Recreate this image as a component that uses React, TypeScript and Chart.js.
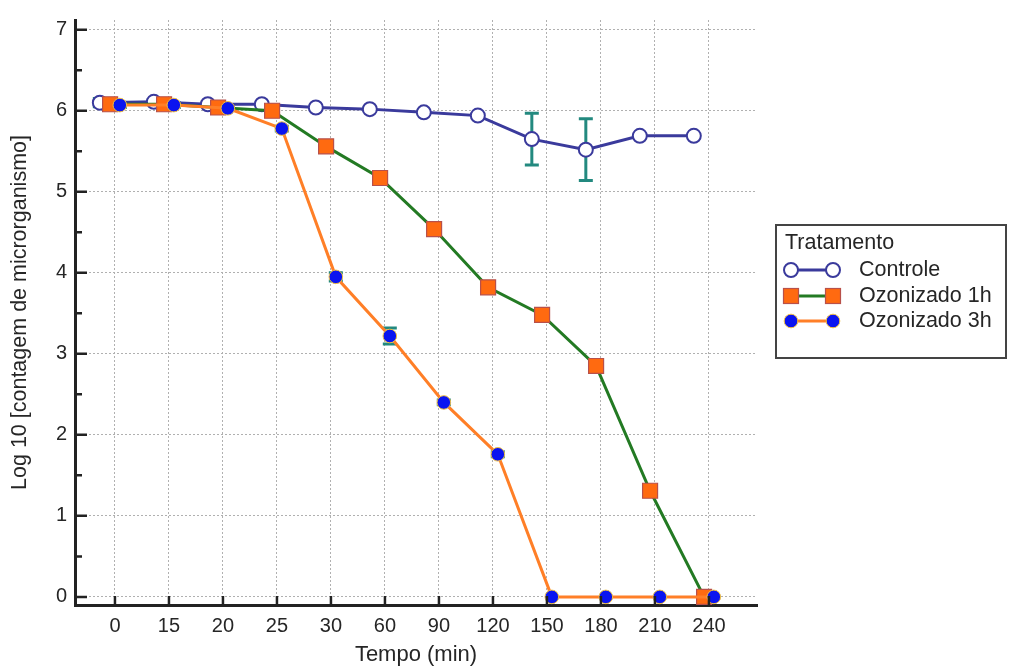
import React, { useEffect, useRef } from 'react';
import { Chart, registerables } from 'chart.js';

Chart.register(...registerables);

const categories = ['0', '15', '20', '25', '30', '60', '90', '120', '150', '180', '210', '240'];
const controle = [6.1, 6.11, 6.08, 6.08, 6.04, 6.02, 5.98, 5.94, 5.65, 5.52, 5.69, 5.69];
const controleErr = [0.05, 0.03, 0.03, 0.02, 0.02, 0.02, 0.02, 0.02, 0.32, 0.38, 0, 0];
const ozonizado1h = [6.08, 6.08, 6.04, 6.0, 5.56, 5.17, 4.54, 3.82, 3.48, 2.85, 1.31, 0];
const ozonizado1hErr = [0.03, 0.03, 0.02, 0.02, 0.03, 0.03, 0.04, 0.06, 0.03, 0.03, 0.06, 0];
const ozonizado3h = [6.07, 6.07, 6.03, 5.78, 3.95, 3.22, 2.4, 1.76, 0, 0, 0, 0];
const ozonizado3hErr = [0.03, 0.03, 0.02, 0.03, 0.05, 0.1, 0.03, 0.03, 0, 0, 0, 0];
const yTicks = [0, 1, 2, 3, 4, 5, 6, 7];
const seriesNames = ['Controle', 'Ozonizado 1h', 'Ozonizado 3h'];
const legendTitle = 'Tratamento';
const xTitle = 'Tempo (min)';
const yTitle = 'Log 10 [contagem de microrganismo]';

const FONT = "'Liberation Sans', Arial, sans-serif";
const TEXT = '#262626';
const dodge = [-0.28, -0.09, 0.09];
const seriesValues = [controle, ozonizado1h, ozonizado3h];
const seriesErrs = [controleErr, ozonizado1hErr, ozonizado3hErr];
const lineColors = ['#3a3a9c', '#237a23', '#ff7f27'];

function drawMarker(ctx: CanvasRenderingContext2D, s: number, x: number, y: number) {
  ctx.save();
  if (s === 0) {
    ctx.beginPath();
    ctx.arc(x, y, 7, 0, Math.PI * 2);
    ctx.fillStyle = '#ffffff';
    ctx.fill();
    ctx.lineWidth = 2;
    ctx.strokeStyle = '#3a3a9c';
    ctx.stroke();
  } else if (s === 1) {
    ctx.fillStyle = '#ff6a10';
    ctx.fillRect(x - 7.5, y - 7.5, 15, 15);
    ctx.lineWidth = 1.2;
    ctx.strokeStyle = '#b8504a';
    ctx.strokeRect(x - 7.5, y - 7.5, 15, 15);
  } else {
    ctx.beginPath();
    ctx.arc(x, y, 6.8, 0, Math.PI * 2);
    ctx.fillStyle = '#0a14f0';
    ctx.fill();
    ctx.lineWidth = 1;
    ctx.strokeStyle = '#f0c040';
    ctx.stroke();
  }
  ctx.restore();
}

const decorPlugin = {
  id: 'decor',
  beforeDatasetsDraw(chart: any) {
    const { ctx, scales } = chart;
    const x = scales.x;
    const y = scales.y;
    ctx.save();
    ctx.strokeStyle = '#23897f';
    ctx.lineWidth = 3;
    seriesValues.forEach((vals, s) => {
      vals.forEach((v, i) => {
        const e = seriesErrs[s][i];
        if (!e) return;
        const px = x.getPixelForValue(i + dodge[s]);
        const top = y.getPixelForValue(v + e);
        const bot = y.getPixelForValue(v - e);
        ctx.beginPath();
        ctx.moveTo(px, top);
        ctx.lineTo(px, bot);
        ctx.moveTo(px - 7, top);
        ctx.lineTo(px + 7, top);
        ctx.moveTo(px - 7, bot);
        ctx.lineTo(px + 7, bot);
        ctx.stroke();
      });
    });
    ctx.restore();
  },
  afterDraw(chart: any) {
    const { ctx, scales, chartArea } = chart;
    const x = scales.x;
    const y = scales.y;
    ctx.save();
    ctx.strokeStyle = '#222';
    ctx.lineWidth = 2.5;
    ctx.beginPath();
    yTicks.forEach((v, k) => {
      const py = y.getPixelForValue(v);
      ctx.moveTo(chartArea.left, py);
      ctx.lineTo(chartArea.left + 12, py);
      if (k < yTicks.length - 1) {
        const pm = y.getPixelForValue(v + 0.5);
        ctx.moveTo(chartArea.left, pm);
        ctx.lineTo(chartArea.left + 7, pm);
      }
    });
    categories.forEach((_, i) => {
      const px = x.getPixelForValue(i);
      ctx.moveTo(px, chartArea.bottom);
      ctx.lineTo(px, chartArea.bottom - 9);
    });
    ctx.stroke();

    // legend
    const bx = 776, by = 225, bw = 230, bh = 133;
    ctx.lineWidth = 2;
    ctx.strokeStyle = '#444';
    ctx.strokeRect(bx, by, bw, bh);
    ctx.fillStyle = TEXT;
    ctx.font = `21.5px ${FONT}`;
    ctx.textBaseline = 'middle';
    ctx.textAlign = 'left';
    ctx.fillText(legendTitle, 785, 243);
    const rows = [270, 296, 321];
    seriesNames.forEach((name, s) => {
      const ry = rows[s];
      ctx.strokeStyle = lineColors[s];
      ctx.lineWidth = 3;
      ctx.beginPath();
      ctx.moveTo(791, ry);
      ctx.lineTo(833, ry);
      ctx.stroke();
      drawMarker(ctx, s, 791, ry);
      drawMarker(ctx, s, 833, ry);
      ctx.fillStyle = TEXT;
      ctx.fillText(name, 859, ry);
    });
    ctx.restore();
  },
};

export default function App() {
  const ref = useRef<HTMLCanvasElement | null>(null);
  useEffect(() => {
    if (!ref.current) return;
    const makeData = (vals: number[], s: number) => vals.map((v, i) => ({ x: i + dodge[s], y: v }));
    const chart = new Chart(ref.current, {
      type: 'line',
      data: {
        datasets: [
          {
            label: seriesNames[0],
            data: makeData(controle, 0),
            borderColor: lineColors[0],
            borderWidth: 3,
            pointStyle: 'circle',
            pointRadius: 7,
            pointBackgroundColor: '#ffffff',
            pointBorderColor: '#3a3a9c',
            pointBorderWidth: 2,
            order: 3,
          },
          {
            label: seriesNames[1],
            data: makeData(ozonizado1h, 1),
            borderColor: lineColors[1],
            borderWidth: 3,
            pointStyle: 'rect',
            pointRadius: 10.6,
            pointBackgroundColor: '#ff6a10',
            pointBorderColor: '#b8504a',
            pointBorderWidth: 1.2,
            order: 2,
          },
          {
            label: seriesNames[2],
            data: makeData(ozonizado3h, 2),
            borderColor: lineColors[2],
            borderWidth: 3,
            pointStyle: 'circle',
            pointRadius: 6.8,
            pointBackgroundColor: '#0a14f0',
            pointBorderColor: '#f0c040',
            pointBorderWidth: 1,
            order: 1,
          },
        ],
      },
      options: {
        responsive: false,
        animation: false,
        layout: { padding: { left: 0, top: 17, right: 256, bottom: 0 } },
        plugins: { legend: { display: false }, tooltip: { enabled: false } },
        scales: {
          x: {
            type: 'linear',
            min: -0.74,
            max: 11.89,
            afterBuildTicks: (a: any) => {
              a.ticks = categories.map((_, i) => ({ value: i }));
            },
            afterFit: (s: any) => {
              s.height = 64;
            },
            grid: { color: '#b0b0b0', lineWidth: 1, drawTicks: false },
            border: { display: true, color: '#222', width: 3, dash: [2, 2] },
            ticks: {
              callback: (v: any) => categories[Math.round(v)] ?? '',
              font: { family: FONT, size: 20 },
              color: TEXT,
              padding: 9,
              maxRotation: 0,
              autoSkip: false,
            },
            title: {
              display: true,
              text: xTitle,
              font: { family: FONT, size: 22 },
              color: TEXT,
              padding: { top: 0, bottom: 1 },
            },
          },
          y: {
            type: 'linear',
            min: -0.1,
            max: 7.12,
            afterBuildTicks: (a: any) => {
              a.ticks = yTicks.map((v) => ({ value: v }));
            },
            afterFit: (s: any) => {
              s.width = 75;
            },
            grid: { color: '#b0b0b0', lineWidth: 1, drawTicks: false },
            border: { display: true, color: '#222', width: 3, dash: [2, 2] },
            ticks: {
              callback: (v: any) => String(v),
              font: { family: FONT, size: 20 },
              color: TEXT,
              padding: 8,
            },
            title: {
              display: true,
              text: yTitle,
              font: { family: FONT, size: 21.5 },
              color: TEXT,
              padding: { top: 7, bottom: 0 },
            },
          },
        },
      },
      plugins: [decorPlugin],
    } as any);
    return () => chart.destroy();
  }, []);
  return (
    <div style={{ position: 'absolute', left: 0, top: 0, width: 1013, height: 669, background: '#ffffff' }}>
      <canvas ref={ref} width={1013} height={669} />
    </div>
  );
}
